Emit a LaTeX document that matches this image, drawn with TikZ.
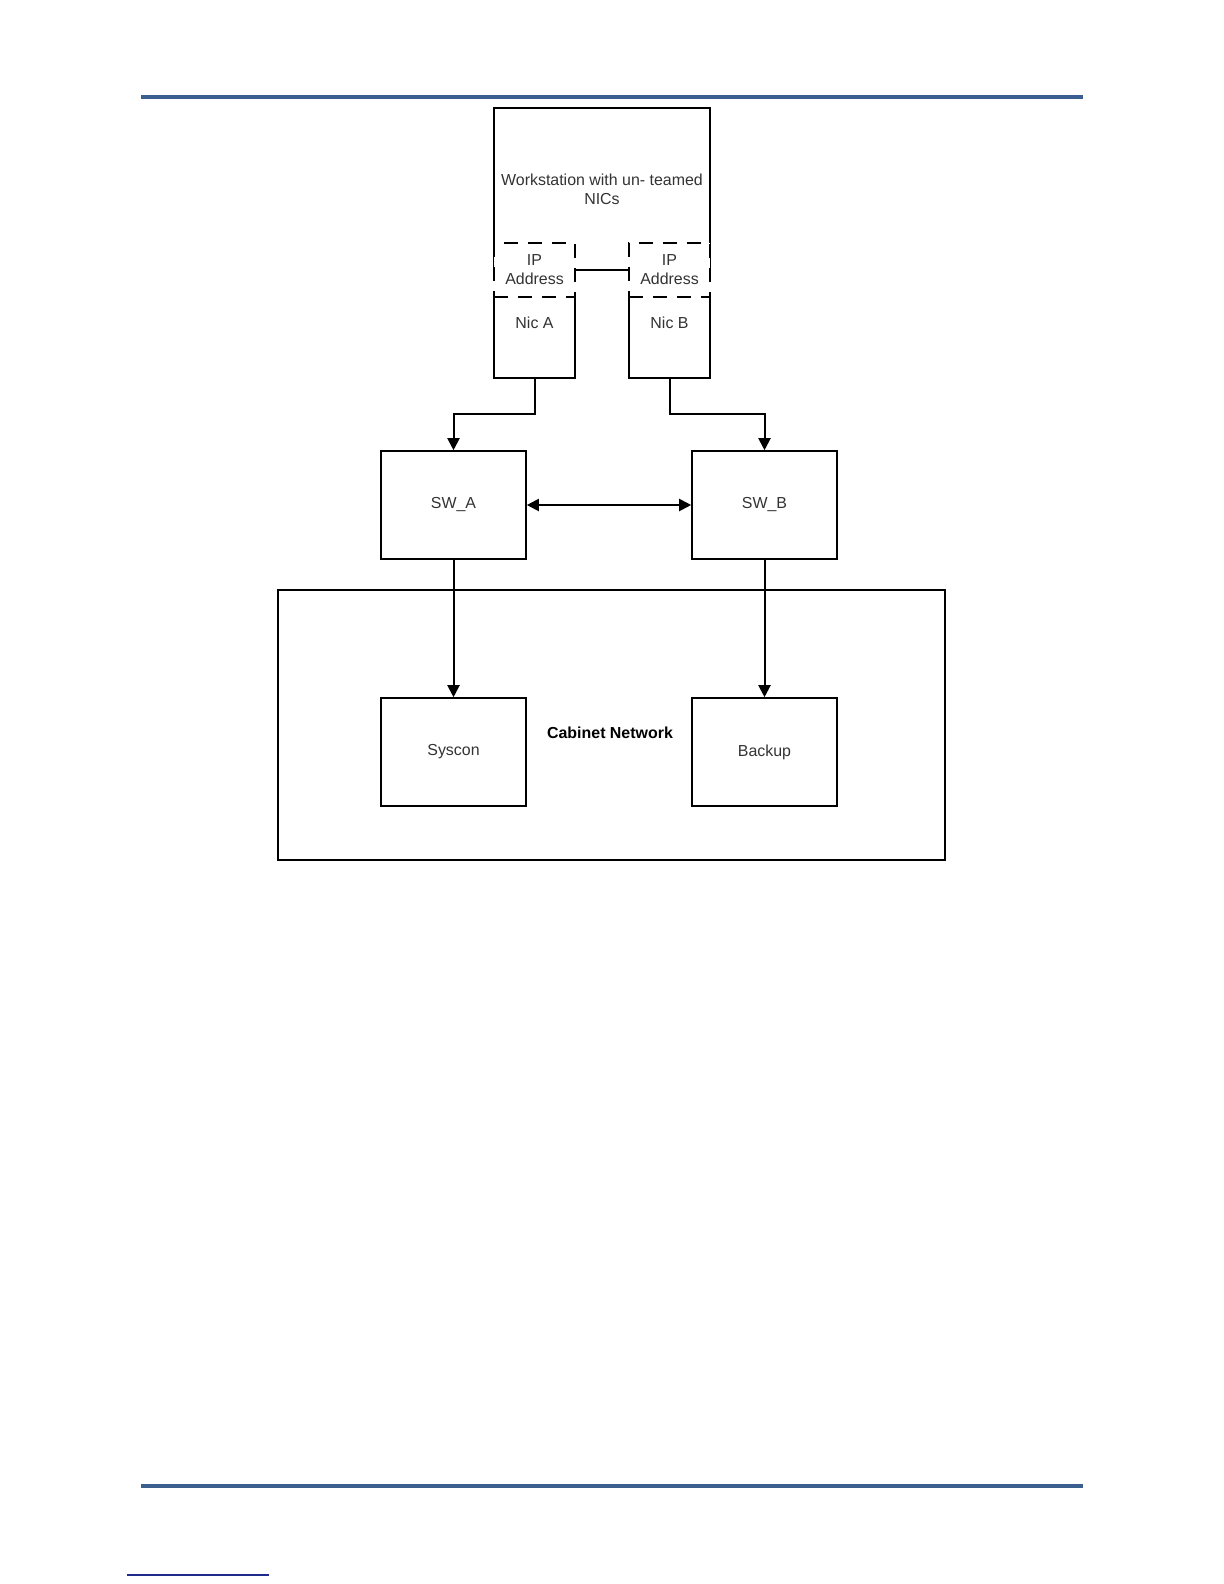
\documentclass[tikz,border=0pt]{standalone}
\usepackage{fontspec}
\setmainfont{Liberation Sans}
\usepackage{tikz}
\usetikzlibrary{arrows.meta,positioning,calc}
\definecolor{hdblue}{HTML}{3B608F}
\definecolor{lnknavy}{HTML}{1F2A8A}
\definecolor{txtgray}{HTML}{333333}
\tikzset{
  box/.style={draw=black, line width=0.8bp, fill=white, align=center,
    font=\fontsize{8}{9.6}\selectfont, text=txtgray, inner sep=0pt},
  ipbox/.style={box, dash pattern=on 7bp off 5bp, minimum width=40.5bp, minimum height=27bp},
  nicbox/.style={box, draw=none, outer sep=0pt, minimum width=40.5bp, minimum height=40.5bp},
  swbox/.style={box, minimum width=72.5bp, minimum height=54bp},
  lbl/.style={font=\fontsize{8}{9.6}\selectfont, text=txtgray, inner sep=0pt},
  arr/.style={-{Triangle[length=6bp,width=6bp]}, line width=1bp},
}

\begin{document}
\begin{tikzpicture}[x=0.5bp, y=-0.5bp]
  \useasboundingbox (0,0) rectangle (1224,1584);
  \draw[hdblue, line width=2.4bp] (141,97) -- (1083,97);
  \draw[hdblue, line width=2.4bp] (141,1486) -- (1083,1486);
  \draw[lnknavy, line width=0.9bp] (127,1575) -- (269,1575);

  \node[box, minimum width=333.5bp, minimum height=135bp] (cab) at (611.5,725) {};
  \node[lbl, font=\fontsize{8}{9.6}\selectfont\bfseries, text=black] (cablbl) at (610,733) {Cabinet Network};

  \node[box, minimum width=108bp, minimum height=81bp] (ws) at (602,189) {Workstation with un- teamed\\NICs};
  \node[nicbox] (nica) at (534.5,337.5) {};
  \node[nicbox] (nicb) at (669.5,337.5) {};
  \draw[line width=0.8bp] (nica.north west) -- (nica.south west) -- (nica.south east) -- (nica.north east);
  \draw[line width=0.8bp] (nicb.north west) -- (nicb.south west) -- (nicb.south east) -- (nicb.north east);
  \node[ipbox] (ipa) at (534.5,270) {IP\\Address};
  \node[ipbox] (ipb) at (669.5,270) {IP\\Address};
  \node[lbl] (nicalbl) at ([yshift=-13bp]nica.north) {Nic A};
  \node[lbl] (nicblbl) at ([yshift=-13bp]nicb.north) {Nic B};

  \node[swbox] (swa) at (453.5,505) {SW\_A};
  \node[swbox] (swb) at (764.5,505) {SW\_B};
  \node[swbox] (sys) at (453.5,752) {Syscon};
  \node[swbox] (bak) at (764.5,752) {Backup};

  \draw[arr] (nica.south) |- ($(nica.south)!0.5!(swa.north)$) -| (swa.north);
  \draw[arr] (nicb.south) |- ($(nicb.south)!0.5!(swb.north)$) -| (swb.north);
  \draw[arr, {Triangle[length=6bp,width=6bp]}-{Triangle[length=6bp,width=6bp]}] (swa.east) -- (swb.west);
  \draw[arr] (swa.south) -- (sys.north);
  \draw[arr] (swb.south) -- (bak.north);
\end{tikzpicture}
\end{document}
